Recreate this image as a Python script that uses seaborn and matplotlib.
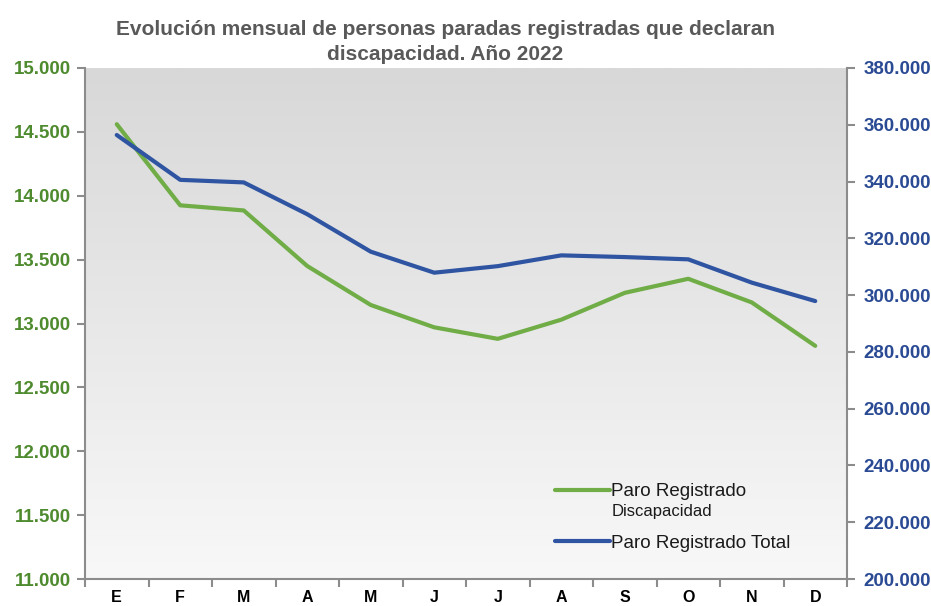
import numpy as np
import pandas as pd
import matplotlib
matplotlib.use("Agg")
import matplotlib.pyplot as plt
from matplotlib.ticker import FixedLocator, FuncFormatter
from matplotlib.lines import Line2D
import seaborn as sns

months = ["E", "F", "M", "A", "M", "J", "J", "A", "S", "O", "N", "D"]
paro_discapacidad = [14560, 13925, 13885, 13450, 13145, 12970, 12880, 13030, 13240, 13350, 13165, 12825]
paro_total = [356400, 340600, 339700, 328500, 315300, 307900, 310200, 314000, 313400, 312600, 304400, 297900]
left_ticks = [11000, 11500, 12000, 12500, 13000, 13500, 14000, 14500, 15000]
right_ticks = [200000, 220000, 240000, 260000, 280000, 300000, 320000, 340000, 360000, 380000]
title = "Evolución mensual de personas paradas registradas que declaran\ndiscapacidad. Año 2022"
label_green = "Paro Registrado"
label_green_2 = "Discapacidad"
label_blue = "Paro Registrado Total"

sns.set_theme(style="white")
plt.rcParams['font.family'] = ['Liberation Sans', 'DejaVu Sans']

GREEN = "#70ad47"
BLUE = "#2f55a2"
GREEN_TXT = "#4e8a2e"
BLUE_TXT = "#2a4a94"
AXCOL = "#8c8c8c"

df = pd.DataFrame({"x": np.arange(len(months)), "disc": paro_discapacidad, "total": paro_total})

W, H = 931, 606
fig = plt.figure(figsize=(W / 100, H / 100), dpi=100)
ax = fig.add_axes([85 / W, 1 - 579 / H, 762 / W, 511 / H])
ax2 = ax.twinx()

# gradient background
grad = np.linspace(0, 1, 256).reshape(-1, 1)
cmap = matplotlib.colors.LinearSegmentedColormap.from_list("g", ["#d8d8d8", "#f8f8f8"])
ax.imshow(grad, cmap=cmap, aspect="auto", extent=[0, 1, 0, 1], transform=ax.transAxes, zorder=0)
ax.patch.set_visible(False)
ax2.patch.set_visible(False)

sns.lineplot(data=df, x="x", y="disc", ax=ax, color=GREEN, lw=3, zorder=3, legend=False)
sns.lineplot(data=df, x="x", y="total", ax=ax2, color=BLUE, lw=3, zorder=3, legend=False)

ax.set_xlim(-0.5, len(months) - 0.5)
ax.set_ylim(11000, 15000)
ax2.set_ylim(200000, 380000)

fmt = FuncFormatter(lambda v, p: f"{v:,.0f}".replace(",", "."))
ax.yaxis.set_major_locator(FixedLocator(left_ticks))
ax.yaxis.set_major_formatter(fmt)
ax2.yaxis.set_major_locator(FixedLocator(right_ticks))
ax2.yaxis.set_major_formatter(fmt)

ax.set_xticks(np.arange(len(months)))
ax.set_xticklabels(months)
ax.set_xticks(np.arange(-0.5, len(months)), minor=True)
ax.tick_params(axis="x", which="major", length=0, pad=8, labelsize=11.5, labelcolor="black")
ax.tick_params(axis="x", which="minor", length=6, width=1.5, color=AXCOL, direction="out", bottom=True)
for t in ax.get_xticklabels():
    t.set_fontweight("bold")

ax.tick_params(axis="y", which="major", length=6, width=1.5, color=AXCOL, direction="out", left=True,
               labelsize=13.5, labelcolor=GREEN_TXT, pad=4)
ax2.tick_params(axis="y", which="major", length=6, width=1.5, color=AXCOL, direction="out", right=True,
                labelsize=13.5, labelcolor=BLUE_TXT, pad=6)
for t in ax.get_yticklabels():
    t.set_fontweight("bold")
for t in ax2.get_yticklabels():
    t.set_fontweight("bold")

ax.set_xlabel("")
ax.set_ylabel("")
ax2.set_ylabel("")
for a in (ax, ax2):
    for s in a.spines.values():
        s.set_visible(False)
for a, side in ((ax, "left"), (ax, "bottom"), (ax2, "right")):
    a.spines[side].set_visible(True)
    a.spines[side].set_color(AXCOL)
    a.spines[side].set_linewidth(1.5)
ax.grid(False)
ax2.grid(False)

fig.text(0.478, 1 - 42 / H, title, ha="center", va="center", fontsize=15, fontweight="bold",
         color="#595959", linespacing=1.45)

# legend
handles = [Line2D([], [], color=GREEN, lw=3), Line2D([], [], color=BLUE, lw=3)]
leg = ax2.legend(handles, [label_green, label_blue], loc="upper left",
                 bbox_to_anchor=(555 / W, 1 - 483 / H), bbox_transform=fig.transFigure,
                 frameon=False, fontsize=13.5, handlelength=2.95, handletextpad=0.05,
                 labelspacing=1.85, borderaxespad=0, borderpad=0)
for t in leg.get_texts():
    t.set_color("#1a1a1a")
fig.canvas.draw()
bb = leg.get_texts()[0].get_window_extent()
fig.text(bb.x0 / W, (bb.y0 - 4) / H, label_green_2, ha="left", va="top", fontsize=12, color="#1a1a1a")

fig.savefig("out.png", dpi=100, facecolor="white")
